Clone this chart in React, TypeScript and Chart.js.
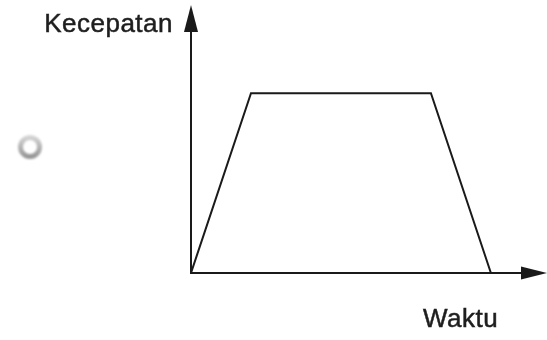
import React, { useEffect, useRef } from "react";
import { Chart, registerables } from "chart.js";

Chart.register(...registerables);

// Data (time units, speed units)
const times = [0, 2, 8, 10];
const speeds = [0, 10, 10, 0];
const yAxisLabel = "Kecepatan";
const xAxisLabel = "Waktu";

const X_MAX = 11.87;
const Y_MAX = 14.91;

const axesPlugin = {
  id: "arrowAxes",
  afterDatasetsDraw(chart: any) {
    const { ctx, chartArea, scales } = chart;
    const x0 = scales.x.getPixelForValue(0);
    const y0 = scales.y.getPixelForValue(0);
    const ink = "#1a1a1a";
    ctx.save();
    ctx.strokeStyle = ink;
    ctx.fillStyle = ink;
    ctx.lineWidth = 2;
    // y axis
    ctx.beginPath();
    ctx.moveTo(x0, y0 + 1);
    ctx.lineTo(x0, chartArea.top + 20);
    ctx.stroke();
    ctx.beginPath();
    ctx.moveTo(x0, chartArea.top);
    ctx.lineTo(x0 - 7, chartArea.top + 27);
    ctx.lineTo(x0 + 7, chartArea.top + 27);
    ctx.closePath();
    ctx.fill();
    // x axis
    ctx.beginPath();
    ctx.moveTo(x0 - 1, y0);
    ctx.lineTo(chartArea.right - 20, y0);
    ctx.stroke();
    ctx.beginPath();
    ctx.moveTo(chartArea.right, y0);
    ctx.lineTo(chartArea.right - 26, y0 - 6.5);
    ctx.lineTo(chartArea.right - 26, y0 + 6.5);
    ctx.closePath();
    ctx.fill();
    // labels
    ctx.fillStyle = "#1e1e1e";
    ctx.strokeStyle = "#1e1e1e";
    ctx.lineWidth = 0.5;
    ctx.font = "26px 'Liberation Sans', Arial, sans-serif";
    (ctx as any).letterSpacing = "0.5px";
    ctx.textBaseline = "alphabetic";
    ctx.textAlign = "right";
    ctx.fillText(yAxisLabel, x0 - 18, chartArea.top + 27);
    ctx.strokeText(yAxisLabel, x0 - 18, chartArea.top + 27);
    ctx.textAlign = "left";
    ctx.fillText(xAxisLabel, 423, y0 + 54);
    ctx.strokeText(xAxisLabel, 423, y0 + 54);
    (ctx as any).letterSpacing = "0px";
    // radio circle
    const cx = 30, cy = 147;
    const g = ctx.createLinearGradient(0, cy - 12, 0, cy + 12);
    g.addColorStop(0, "#dadada");
    g.addColorStop(1, "#909090");
    ctx.filter = "blur(1px)";
    ctx.beginPath();
    ctx.arc(cx, cy, 9.5, 0, Math.PI * 2);
    ctx.strokeStyle = g;
    ctx.lineWidth = 5;
    ctx.stroke();
    ctx.filter = "none";
    ctx.restore();
  },
};

export default function App() {
  const ref = useRef<HTMLCanvasElement>(null);
  useEffect(() => {
    if (!ref.current) return;
    const chart = new Chart(ref.current, {
      type: "line",
      data: {
        datasets: [
          {
            data: times.map((t, i) => ({ x: t, y: speeds[i] })),
            borderColor: "#1a1a1a",
            borderWidth: 2,
            pointRadius: 0,
            fill: false,
            tension: 0,
          },
        ],
      },
      options: {
        responsive: false,
        animation: false,
        layout: { padding: { left: 191, right: 0, top: 5, bottom: 67 } },
        plugins: { legend: { display: false }, tooltip: { enabled: false } },
        scales: {
          x: { type: "linear", min: 0, max: X_MAX, display: false },
          y: { type: "linear", min: 0, max: Y_MAX, display: false },
        },
      },
      plugins: [axesPlugin],
    });
    return () => chart.destroy();
  }, []);
  return (
    <div style={{ position: "fixed", left: 0, top: 0, width: 547, height: 340, background: "#fff" }}>
      <canvas ref={ref} width={547} height={340} style={{ display: "block" }} />
    </div>
  );
}
